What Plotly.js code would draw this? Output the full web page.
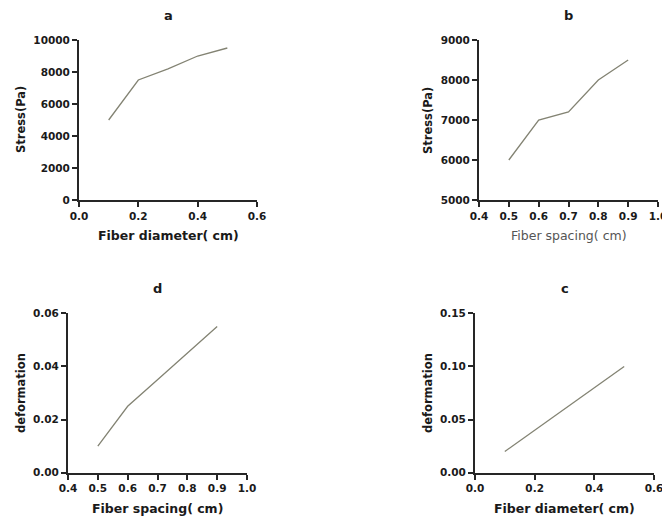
<!DOCTYPE html>
<html>
<head>
<meta charset="utf-8">
<script src="https://cdn.plot.ly/plotly-3.0.1.min.js"></script>
<style>html,body{margin:0;padding:0;background:#fff;}#chart{width:662px;height:520px;}</style>
</head>
<body>
<div id="chart"></div>
<script>
// Panel a: stress vs fiber diameter
const diameterA = [0.1, 0.2, 0.3, 0.4, 0.5];
const stressA = [5000, 7500, 8200, 9000, 9500];
// Panel b: stress vs fiber spacing
const spacingB = [0.5, 0.6, 0.7, 0.8, 0.9];
const stressB = [6000, 7000, 7200, 8000, 8500];
// Panel d: deformation vs fiber spacing
const spacingD = [0.5, 0.6, 0.7, 0.8, 0.9];
const deformD = [0.010, 0.025, 0.035, 0.045, 0.055];
// Panel c: deformation vs fiber diameter
const diameterC = [0.1, 0.2, 0.3, 0.4, 0.5];
const deformC = [0.02, 0.04, 0.06, 0.08, 0.10];

// Tick values
const diameterTicks = [0, 0.2, 0.4, 0.6];
const spacingTicks = [0.4, 0.5, 0.6, 0.7, 0.8, 0.9, 1.0];
const stressTicksA = [0, 2000, 4000, 6000, 8000, 10000];
const stressTicksB = [5000, 6000, 7000, 8000, 9000];
const deformTicksD = [0, 0.02, 0.04, 0.06];
const deformTicksC = [0, 0.05, 0.10, 0.15];

const panelTitles = ['a', 'b', 'd', 'c'];
const xTitles = ['Fiber diameter( cm)', 'Fiber spacing( cm)', 'Fiber spacing( cm)', 'Fiber diameter( cm)'];
const yTitles = ['Stress(Pa)', 'Stress(Pa)', 'deformation', 'deformation'];

const W = 662, H = 520;
const lineColor = '#838373';
const axColor = '#262626';
const fontFam = '"DejaVu Sans", Verdana, sans-serif';

// pixel boxes: [left, right, top, bottom]
const boxes = [
  [79, 257, 40, 200],
  [479, 658, 40, 200],
  [68, 247, 313.3, 472.7],
  [475, 654, 313.3, 472.7]
];

function xd(b){ return [b[0]/W, b[1]/W]; }
function yd(b){ return [1 - b[3]/H, 1 - b[2]/H]; }

const traces = [
  {x: diameterA, y: stressA, xaxis: 'x', yaxis: 'y'},
  {x: spacingB, y: stressB, xaxis: 'x2', yaxis: 'y2'},
  {x: spacingD, y: deformD, xaxis: 'x3', yaxis: 'y3'},
  {x: diameterC, y: deformC, xaxis: 'x4', yaxis: 'y4'}
].map(t => Object.assign(t, {type: 'scatter', mode: 'lines', line: {color: lineColor, width: 1.3}, hoverinfo: 'skip', showlegend: false, cliponaxis: false}));

const common = {showgrid: false, zeroline: false, showline: true, linecolor: axColor, linewidth: 2,
  ticks: 'outside', ticklen: 5, tickwidth: 2, tickcolor: axColor, tickmode: 'array',
  ticklabeloverflow: 'allow',
  tickfont: {family: fontFam, size: 10.5, color: '#1a1a1a', weight: 'bold'}, fixedrange: true};

function xAxis(i, range, vals, fmt){
  const b = boxes[i];
  return Object.assign({}, common, {domain: xd(b), range: range, tickvals: vals,
    ticktext: vals.map(v => v.toFixed(fmt)), anchor: i === 0 ? 'y' : 'y' + (i+1)});
}
function yAxis(i, range, vals, fmt){
  const b = boxes[i];
  return Object.assign({}, common, {domain: yd(b), range: range, tickvals: vals,
    ticktext: vals.map(v => v.toFixed(fmt)), anchor: i === 0 ? 'x' : 'x' + (i+1)});
}

const annotations = [];
boxes.forEach((b, i) => {
  const cx = (b[0] + b[1]) / 2;
  annotations.push({text: '<b>' + panelTitles[i] + '</b>', xref: 'paper', yref: 'paper',
    x: cx / W, y: 1 - (b[2] - 25) / H, xanchor: 'center', yanchor: 'middle', showarrow: false,
    font: {family: fontFam, size: 13, color: '#1a1a1a'}});
  const xBold = i !== 1;
  annotations.push({text: xBold ? '<b>' + xTitles[i] + '</b>' : xTitles[i], xref: 'paper', yref: 'paper',
    x: cx / W, y: 1 - (b[3] + 36) / H, xanchor: 'center', yanchor: 'middle', showarrow: false,
    font: {family: fontFam, size: 12.5, color: xBold ? '#1a1a1a' : '#555'}});
  const yOff = [58, 51, 47, 47][i];
  annotations.push({text: '<b>' + yTitles[i] + '</b>', xref: 'paper', yref: 'paper',
    x: (b[0] - yOff) / W, y: 1 - ((b[2] + b[3]) / 2) / H, xanchor: 'center', yanchor: 'middle',
    textangle: -90, showarrow: false, font: {family: fontFam, size: 11.5, color: '#1a1a1a'}});
});

const layout = {
  width: W, height: H, margin: {l: 0, r: 0, t: 0, b: 0},
  paper_bgcolor: '#fff', plot_bgcolor: '#fff',
  xaxis: xAxis(0, [0, 0.6], diameterTicks, 1),
  yaxis: yAxis(0, [0, 10000], stressTicksA, 0),
  xaxis2: xAxis(1, [0.4, 1.0], spacingTicks, 1),
  yaxis2: yAxis(1, [5000, 9000], stressTicksB, 0),
  xaxis3: xAxis(2, [0.4, 1.0], spacingTicks, 1),
  yaxis3: yAxis(2, [0, 0.06], deformTicksD, 2),
  xaxis4: xAxis(3, [0, 0.6], diameterTicks, 1),
  yaxis4: yAxis(3, [0, 0.15], deformTicksC, 2),
  annotations: annotations
};

Plotly.newPlot('chart', traces, layout, {displayModeBar: false, staticPlot: true});
</script>
</body>
</html>
